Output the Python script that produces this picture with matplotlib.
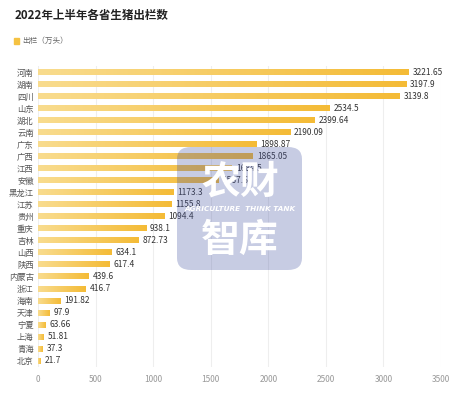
import matplotlib.pyplot as plt
import numpy as np
from matplotlib.colors import LinearSegmentedColormap
from matplotlib.patches import FancyBboxPatch, Rectangle

plt.rcParams['font.family'] = ['Noto Sans CJK SC', 'DejaVu Sans']

provinces = ['河南', '湖南', '四川', '山东', '湖北', '云南', '广东', '广西', '江西', '安徽',
             '黑龙江', '江苏', '贵州', '重庆', '吉林', '山西', '陕西', '内蒙古', '浙江', '海南',
             '天津', '宁夏', '上海', '青海', '北京']
values = [3221.65, 3197.9, 3139.8, 2534.5, 2399.64, 2190.09, 1898.87, 1865.05, 1684.5, 1567.6,
          1173.3, 1155.8, 1094.4, 938.1, 872.73, 634.1, 617.4, 439.6, 416.7, 191.82,
          97.9, 63.66, 51.81, 37.3, 21.7]
value_labels = ['3221.65', '3197.9', '3139.8', '2534.5', '2399.64', '2190.09', '1898.87', '1865.05',
                '1684.5', '1567.6', '1173.3', '1155.8', '1094.4', '938.1', '872.73', '634.1',
                '617.4', '439.6', '416.7', '191.82', '97.9', '63.66', '51.81', '37.3', '21.7']
xticks = [0, 500, 1000, 1500, 2000, 2500, 3000, 3500]

# bar gradient (pale on the left, deeper yellow on the right)
grad = LinearSegmentedColormap.from_list('bar', ['#F9DC8E', '#F4BB36'])
gradimg = np.linspace(0, 1, 256).reshape(1, -1)

fig = plt.figure(figsize=(4.71, 3.98), dpi=100)
ax = fig.add_axes([38/471, 1-367/398, 403/471, (367-66)/398])

n = len(provinces)
h = 0.46
for i, (v, lab) in enumerate(zip(values, value_labels)):
  ax.imshow(gradimg, cmap=grad, aspect='auto', extent=[0, v, i+h/2, i-h/2], zorder=2, interpolation='bicubic')
  ax.text(v + 35, i, lab, va='center', ha='left', fontsize=6, color='#333333', zorder=3)

ax.set_xlim(0, 3500)
ax.set_ylim(n - 0.5, -0.5)
ax.set_yticks(range(n))
ax.set_yticklabels(provinces, fontsize=6, color='#555555')
ax.set_xticks(xticks)
ax.set_xticklabels([str(t) for t in xticks], fontsize=6, color='#999999')
ax.tick_params(axis='y', length=0, pad=3)
ax.tick_params(axis='x', length=0, pad=6)
for s in ax.spines.values(): s.set_visible(False)
ax.grid(axis='x', color='#EEEEEE', linewidth=0.8, zorder=0)
ax.set_axisbelow(True)

# title and legend
fig.text(15/471, 1-15/398, '2022年上半年各省生猪出栏数', fontsize=8.3, fontweight='bold', color='#222222', va='center', ha='left')
fig.patches.append(Rectangle((14/471, 1-44/398), 5/471, 6/398, transform=fig.transFigure, color='#F5C242'))
fig.text(22/471, 1-41/398, '出栏（万头）', fontsize=5.5, color='#666666', va='center', ha='left')

# watermark
wm = FancyBboxPatch((177/471, 1-270/398), 125/471, 123/398, boxstyle='round,pad=0,rounding_size=0.03',
                    transform=fig.transFigure, facecolor='#4858A5', edgecolor='none', alpha=0.3, zorder=5)
fig.patches.append(wm)
fig.text(240/471, 1-182/398, '农财', fontsize=28, fontweight='bold', color='white', ha='center', va='center', zorder=6)
fig.text(240/471, 1-209/398, 'AGRICULTURE  THINK TANK', fontsize=5.2, fontweight='bold', style='italic',
         color='white', ha='center', va='center', zorder=6, family='DejaVu Sans')
fig.text(240/471, 1-240/398, '智库', fontsize=28, fontweight='bold', color='white', ha='center', va='center', zorder=6)

fig.savefig('out.png', dpi=100)
